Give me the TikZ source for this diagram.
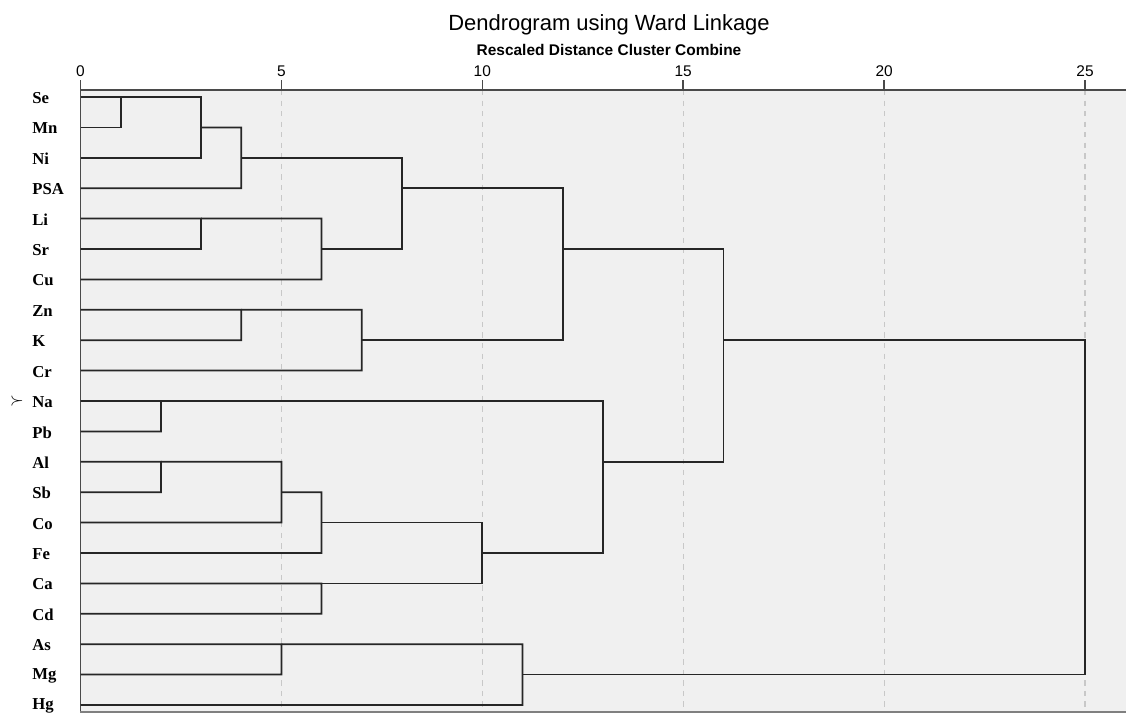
\documentclass[tikz,border=0pt]{standalone}
\usepackage{fontspec}
\setmainfont{Liberation Serif}
\setsansfont{Liberation Sans}
\usepackage{tikz}

\definecolor{panelgray}{HTML}{F0F0F0}
\definecolor{gridgray}{HTML}{C8C8C8}
\definecolor{axisgray}{HTML}{4A4A4A}

\tikzset{
  link/.style={line width=1pt, draw=black!85},
  leaf/.style={anchor=west, inner sep=0pt, font=\fontsize{9.5}{10}\selectfont\bfseries},
  tick/.style={font=\sffamily\fontsize{8.8}{9}\selectfont, inner sep=0pt},
  gridline/.style={gridgray, line width=0.6pt, dash pattern=on 3pt off 3pt}
}

\begin{document}
\begin{tikzpicture}[x=0.02cm, y=-0.02cm]
\useasboundingbox (0,0) rectangle (1126,714);

% panel and axis
\fill[panelgray] (80,90) rectangle (1126,712);
\foreach \d in {5,10,15,20,25}
  \draw[gridline] ({80.5+40.18*\d},90) -- ({80.5+40.18*\d},712);
\draw[axisgray, line width=0.9pt] (80,90) -- (1126,90);
\draw[axisgray, line width=0.9pt] (80.5,80) -- (80.5,712);
\draw[gray, line width=0.9pt] (80,712) -- (1126,712);
\foreach \d in {0,5,10,15,20,25} {
  \draw[axisgray, line width=0.9pt] ({80.5+40.18*\d},80) -- ({80.5+40.18*\d},90);
  \node[tick] (t\d) at ({80.5+40.18*\d},71) {\d};
}

% titles
\node[font=\sffamily\fontsize{12.5}{14}\selectfont] (title) at (609,25) {Dendrogram using Ward Linkage};
\node[font=\sffamily\bfseries\fontsize{8.8}{10}\selectfont] (subtitle) at (609,50) {Rescaled Distance Cluster Combine};

% leaves
\foreach \lab [count=\i from 0] in {Se,Mn,Ni,PSA,Li,Sr,Cu,Zn,K,Cr,Na,Pb,Al,Sb,Co,Fe,Ca,Cd,As,Mg,Hg} {
  \node[leaf] (l\lab) at (32,{98+30.4*\i}) {\lab};
  \coordinate (\lab) at (80.5,{97+30.4*\i});
}
\node[inner sep=0pt, font=\fontsize{10}{10}\selectfont] (mark) at (17,401) {$\succ$};

% first group
\draw[link] (Se) -| (120.7,127.4) -- (Mn); % Se + Mn
\draw[link] (120.7,97) -| (201,157.8) -- (Ni); % + Ni
\draw[link] (201,127.4) -| (241.2,188.2) -- (PSA); % + PSA
\draw[link] (Li) -| (201,249) -- (Sr); % Li + Sr
\draw[link] (201,218.6) -| (321.6,279.4) -- (Cu); % + Cu
\draw[link] (241.2,157.8) -| (401.9,249) -- (321.6,249);
\draw[link] (Zn) -| (241.2,340.2) -- (K); % Zn + K
\draw[link] (241.2,309.8) -| (361.8,370.6) -- (Cr); % + Cr
\draw[link] (401.9,188.2) -| (562.7,340.2) -- (361.8,340.2);

% second group
\draw[link] (Na) -| (160.9,431.4) -- (Pb); % Na + Pb
\draw[link] (Al) -| (160.9,492.2) -- (Sb); % Al + Sb
\draw[link] (160.9,461.8) -| (281.4,522.6) -- (Co); % + Co
\draw[link] (281.4,492.2) -| (321.6,553) -- (Fe); % + Fe
\draw[link] (Ca) -| (321.6,613.8) -- (Cd); % Ca + Cd
\draw[link] (321.6,522.6) -| (482.3,583.4) -- (321.6,583.4);
\draw[link] (160.9,401) -| (602.8,553) -- (482.3,553);
\draw[link] (562.7,249) -| (723.4,461.8) -- (602.8,461.8);

% third group
\draw[link] (As) -| (281.4,674.6) -- (Mg); % As + Mg
\draw[link] (281.4,644.2) -| (522.5,705) -- (Hg); % + Hg
\draw[link] (723.4,340.2) -| (1085,674.6) -- (522.5,674.6);

\end{tikzpicture}
\end{document}
